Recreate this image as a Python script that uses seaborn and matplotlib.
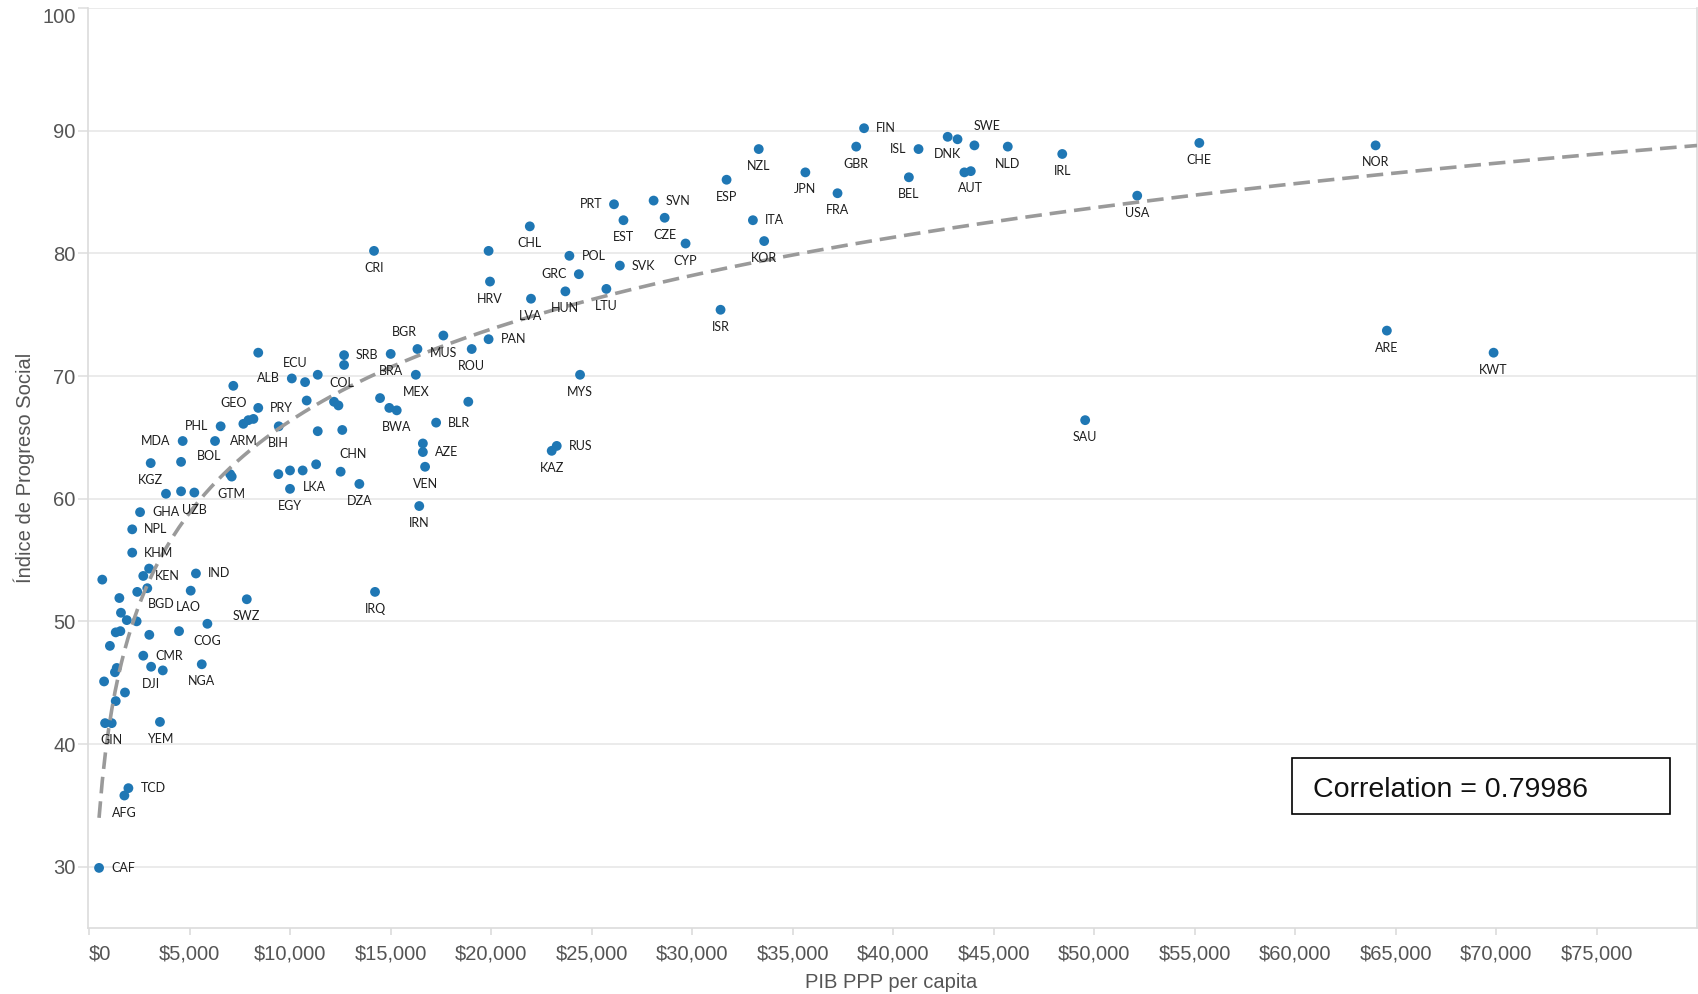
import numpy as np
import pandas as pd
import matplotlib
matplotlib.use("Agg")
import matplotlib.pyplot as plt
import seaborn as sns

# ---------------- data ----------------
codes = ["CAF", "AFG", "TCD", "", "GIN", "YEM", "", "", "", "", "",
         "DJI", "", "NGA", "CMR", "", "", "", "", "", "COG", "", "", "",
         "", "SWZ", "", "BGD", "LAO", "IRQ", "", "KEN", "", "IND", "KHM",
         "NPL", "GHA", "", "", "UZB", "KGZ", "", "", "GTM", "", "EGY", "",
         "", "LKA", "CHN", "DZA", "MDA", "BOL", "PHL", "ARM", "", "", "BIH",
         "", "", "GEO", "PRY", "", "COL", "", "", "ALB", "ECU", "", "SRB",
         "", "", "", "BWA", "BRA", "BGR", "MEX", "MUS", "ROU", "PAN", "",
         "BLR", "", "AZE", "VEN", "IRN", "CRI", "", "HRV", "CHL", "LVA",
         "POL", "GRC", "HUN", "LTU", "PRT", "EST", "SVK", "SVN", "CZE",
         "CYP", "ESP", "ISR", "ITA", "KOR", "NZL", "JPN", "FRA", "GBR",
         "FIN", "BEL", "ISL", "DNK", "", "SWE", "AUT", "", "NLD", "IRL",
         "USA", "SAU", "CHE", "NOR", "ARE", "KWT", "MYS", "RUS", "KAZ"]

gdp = [500, 1760, 1960, 800, 1130, 3530, 1330, 1790, 750, 1380, 1290,
       3090, 3670, 5610, 2700, 1040, 3000, 4480, 1330, 1560, 5890, 1590, 1880, 2370,
       1510, 7850, 2400, 2900, 5060, 14230, 660, 2700, 2990, 5320, 2150,
       2150, 2540, 3830, 4580, 5240, 3070, 4580, 7020, 7100, 9420, 10000, 10000,
       10630, 11300, 12520, 13450, 4660, 6270, 6550, 7680, 7930, 8180, 9440,
       11380, 12600, 7180, 8420, 10830, 12190, 12410, 8420, 10090, 10750, 11380, 12690,
       12690, 14480, 14940, 15310, 15010, 16340, 16260, 17630, 19040, 19880, 18870,
       17270, 16610, 16610, 16720, 16430, 14180, 19880, 19950, 21930, 21990,
       23900, 24370, 23700, 25740, 26120, 26590, 26410, 28090, 28640,
       29680, 31720, 31420, 33030, 33590, 33320, 35640, 37240, 38170,
       38560, 40790, 41270, 42720, 43210, 44050, 43870, 43550, 45710, 48420,
       52150, 49560, 55240, 64010, 64570, 69880, 24430, 23270, 23020]

spi = [29.9, 35.8, 36.4, 41.7, 41.7, 41.8, 43.5, 44.2, 45.1, 46.2, 45.85,
       46.3, 46.0, 46.5, 47.2, 48.0, 48.9, 49.2, 49.1, 49.2, 49.8, 50.7, 50.1, 50.0,
       51.9, 51.8, 52.4, 52.7, 52.5, 52.4, 53.4, 53.7, 54.3, 53.9, 55.6,
       57.5, 58.9, 60.4, 60.6, 60.5, 62.9, 63.0, 62.0, 61.8, 62.0, 60.8, 62.3,
       62.3, 62.8, 62.2, 61.2, 64.7, 64.7, 65.9, 66.1, 66.4, 66.5, 65.9,
       65.5, 65.6, 69.2, 67.4, 68.0, 67.9, 67.6, 71.9, 69.8, 69.5, 70.1, 71.7,
       70.9, 68.2, 67.4, 67.2, 71.8, 72.2, 70.1, 73.3, 72.2, 73.0, 67.9,
       66.2, 64.5, 63.8, 62.6, 59.4, 80.2, 80.2, 77.7, 82.2, 76.3,
       79.8, 78.3, 76.9, 77.1, 84.0, 82.7, 79.0, 84.3, 82.9,
       80.8, 86.0, 75.4, 82.7, 81.0, 88.5, 86.6, 84.9, 88.7,
       90.2, 86.2, 88.5, 89.5, 89.3, 88.8, 86.7, 86.6, 88.7, 88.1,
       84.7, 66.4, 89.0, 88.8, 73.7, 71.9, 70.1, 64.3, 63.9]

x_ticks = [0, 5000, 10000, 15000, 20000, 25000, 30000, 35000, 40000,
           45000, 50000, 55000, 60000, 65000, 70000, 75000]
x_tick_labels = ["$0", "$5,000", "$10,000", "$15,000", "$20,000", "$25,000",
                 "$30,000", "$35,000", "$40,000", "$45,000", "$50,000",
                 "$55,000", "$60,000", "$65,000", "$70,000", "$75,000"]
y_ticks = [30, 40, 50, 60, 70, 80, 90, 100]
correlation_text = "Correlation = 0.79986"

# label placement (style): side code or custom pixel offset (dx, dy downwards)
label_side = {
    "CAF": "r", "TCD": "r", "CMR": "r", "KEN": "r", "IND": "r", "KHM": "r",
    "NPL": "r", "GHA": "r", "PRY": "r", "SRB": "r", "PAN": "r", "BLR": "r",
    "AZE": "r", "POL": "r", "SVK": "r", "SVN": "r", "ITA": "r", "FIN": "r",
    "RUS": "r",
    "MDA": "l", "PHL": "l", "ALB": "l", "GRC": "l", "PRT": "l", "ISL": "l",
    "BGD": (14, 16), "LAO": (-2, 16), "LKA": (-2, 23), "CHN": (12, -18),
    "BOL": (-6, 15), "COL": (8, -19), "ECU": (-10, -19), "BGR": (-13, -17),
    "SWE": (13, -19),
}

# ---------------- figure ----------------
sns.set_theme(style="white")
plt.rcParams['font.family'] = ['Liberation Sans', 'DejaVu Sans']

W, H = 1698, 994
fig = plt.figure(figsize=(W / 100, H / 100), dpi=100)
L, R, T, B = 88, 1697, 8, 928
ax = fig.add_axes([L / W, 1 - B / H, (R - L) / W, (B - T) / H])

df = pd.DataFrame({"code": codes, "gdp": gdp, "spi": spi})

# logarithmic trend line fitted from the data
coef = np.polyfit(np.log(df["gdp"]), df["spi"], 1)
xs = np.linspace(df["gdp"].min(), 80000, 500)
ax.plot(xs, coef[0] * np.log(xs) + coef[1], color="#9a9a9a", lw=2.6,
        ls=(0, (4.6, 2.2)), zorder=4)

sns.scatterplot(data=df, x="gdp", y="spi", ax=ax, color="#1f77b4", s=50,
                edgecolor="none", linewidth=0, zorder=3, legend=False)

for c, xv, yv in zip(df["code"], df["gdp"], df["spi"]):
    if not c:
        continue
    side = label_side.get(c, "b")
    if side == "r":
        dx, dy, ha = 12, 0, "left"
    elif side == "l":
        dx, dy, ha = -12, 0, "right"
    elif side == "b":
        dx, dy, ha = 0, 17, "center"
    else:
        dx, dy = side
        ha = "center"
    ax.annotate(c, (xv, yv), xytext=(dx, -dy), textcoords="offset pixels",
                ha=ha, va="center", fontsize=9.0, color="#1e1e1e",
                family=["Lato", "DejaVu Sans"], zorder=5)

ax.set_xlim(-50, 80000)
ax.set_ylim(25, 100)
ax.set_xticks(x_ticks)
ax.set_xticklabels(x_tick_labels)
ax.set_yticks(y_ticks)
ax.set_yticklabels([str(v) for v in y_ticks])

for v in y_ticks:
    ax.axhline(v, color="#e8e8e8", lw=1.2, zorder=1)

for s in ["left", "right", "bottom"]:
    ax.spines[s].set_color("#dcdcdc")
    ax.spines[s].set_linewidth(1.2)
ax.spines["top"].set_visible(False)

ax.tick_params(axis="y", length=7, width=1.2, color="#e0e0e0", pad=2,
               labelsize=14.5, labelcolor="#555555", left=True)
ax.tick_params(axis="x", length=5, width=1.2, color="#dcdcdc", pad=7,
               labelsize=14.5, labelcolor="#555555", bottom=True)
ylabs = ax.get_yticklabels()
ylabs[-1].set_va("top")
xlabs = ax.get_xticklabels()
xlabs[0].set_ha("left")

ax.set_xlabel("")
ax.set_ylabel("")
fig.text(891 / W, 1 - 982 / H, "PIB PPP per capita", ha="center", va="center",
         fontsize=14.5, color="#555555")
fig.text(24 / W, 1 - 468 / H, "Índice de Progreso Social", ha="center",
         va="center", rotation=90, fontsize=14.5, color="#555555")

# correlation box
bx0, by0, bx1, by1 = 1292, 758, 1670, 814
rect = plt.Rectangle(((bx0 - L) / (R - L), 1 - (by1 - T) / (B - T)),
                     (bx1 - bx0) / (R - L), (by1 - by0) / (B - T),
                     transform=ax.transAxes, fill=True, fc="white",
                     ec="black", lw=1.2, zorder=6)
ax.add_patch(rect)
ax.text((1313 - L) / (R - L), 1 - (790 - T) / (B - T), correlation_text,
        transform=ax.transAxes, ha="left", va="center", fontsize=20.5,
        color="#111111", zorder=7)

fig.savefig("out.png", dpi=100)
